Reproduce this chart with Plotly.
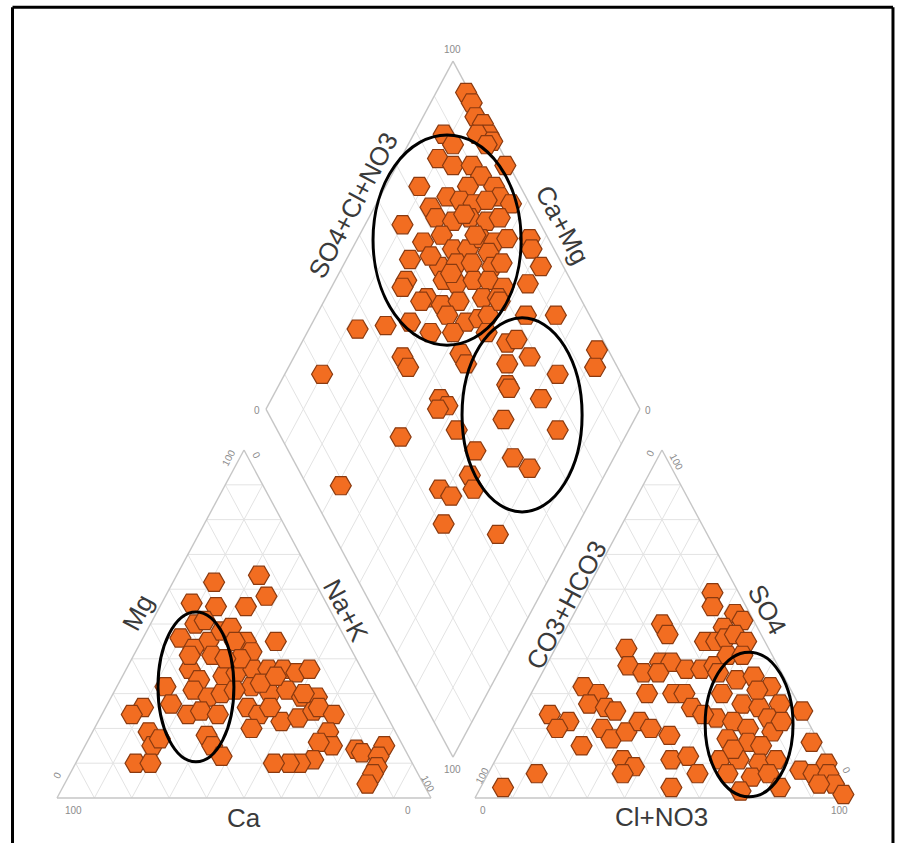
import math
import plotly.graph_objects as go

# ---------------------------------------------------------------------------
# Sample chemistry (percent of meq/L)
# ---------------------------------------------------------------------------
# Cation triangle: Ca and Mg (Na+K is the remainder)
cation_ca = [27, 14, 15, 36, 30, 22, 19, 44, 38, 37, 38, 32, 29, 27, 27, 46, 45, 38, 34,
             55, 48, 45, 41, 56, 53, 49, 45, 51, 51, 50, 29, 25, 21, 18, 14, 32, 28, 23,
             20, 16, 36, 34, 29, 24, 19, 17, 14, 38, 18, 19, 22, 26, 30, 33, 37, 13, 12,
             5, 8, 10, 12, 15, 64, 68, 66, 67, 74, 70, 64, 30, 31, 29, 24, 19, 30, 35, 42,
             35, 44, 37]
cation_mg = [62, 64, 58, 56, 55, 55, 45, 46, 50, 45, 41, 48, 49, 45, 42, 37, 34, 35, 36,
             32, 31, 29, 30, 27, 24, 25, 24, 18, 15, 12, 37, 37, 37, 36, 37, 32, 30, 31,
             29, 29, 26, 24, 22, 23, 25, 26, 24, 20, 19, 15, 16, 11, 10, 10, 10, 14, 13,
             15, 12, 9, 7, 4, 26, 24, 19, 15, 10, 10, 17, 45, 40, 33, 35, 30, 26, 40, 43,
             51, 41, 31]

# Anion triangle: Cl+NO3 and SO4 (CO3+HCO3 is the remainder)
anion_cl = [34, 36, 43, 46, 42, 39, 42, 44, 46, 50, 25, 28, 19, 30, 33, 22, 27, 31, 38,
            42, 45, 47, 13, 18, 17, 22, 25, 8, 14, 12, 21, 24, 28, 31, 33, 37, 31, 38,
            41, 45, 43, 34, 38, 36, 47, 51, 56, 51, 6, 13,
            47, 53, 57, 63, 68, 51, 58, 63, 53, 58, 63, 67, 70, 59, 65, 69, 60, 65, 71,
            75, 64, 71, 75, 70, 80,
            75, 82, 83, 87, 89, 91, 94, 98, 90,
            51, 60, 71, 62, 49]
anion_so4 = [59, 55, 53, 51, 49, 45, 45, 46, 47, 45, 50, 47, 43, 39, 39, 38, 36, 36, 37,
             37, 38, 41, 32, 30, 27, 26, 25, 24, 22, 20, 15, 20, 17, 19, 22, 20, 30, 30,
             30, 26, 18, 11, 9, 7, 11, 12, 7, 3, 3, 7,
             36, 34, 35, 32, 27, 30, 27, 26, 23, 22, 20, 23, 19, 17, 16, 15, 11, 11, 10,
             11, 7, 6, 7, 2, 3,
             25, 16, 8, 7, 10, 7, 4, 1, 4,
             41, 31, 22, 14, 24]

# Central diamond: SO4+Cl+NO3 and Ca+Mg
diamond_so4_cl = [99, 99, 98, 99, 99, 96, 99, 97, 87, 88, 82, 85, 90, 99, 91, 73, 86, 93,
                  93, 73, 79, 82, 85, 89, 95, 63, 73, 77, 82, 86, 90, 66, 72, 73, 77, 82,
                  85, 89, 95, 82, 60, 67, 72, 76, 81, 84, 94, 94, 56, 66, 69, 74, 78, 81,
                  88, 54, 59, 62, 67, 74, 78, 62, 66, 70, 73, 51, 55, 61, 83, 91, 36, 44,
                  60, 74, 77, 44, 44, 60, 71, 78, 83, 97, 94, 20, 68, 75, 48, 49, 32, 62,
                  75, 46, 48, 50, 59, 62, 45, 35, 37, 44, 31, 44, 9, 68,
                  81, 69, 81, 66, 78, 57, 70]
diamond_ca_mg = [92, 89, 86, 83, 80, 83, 78, 79, 92, 88, 90, 85, 80, 71, 76, 91, 78, 71,
                 68, 85, 82, 78, 74, 71, 64, 90, 82, 77, 73, 68, 65, 82, 78, 73, 69, 67,
                 63, 60, 54, 63, 83, 74, 70, 66, 60, 58, 52, 47, 81, 71, 67, 63, 59, 54,
                 48, 81, 73, 68, 64, 58, 54, 65, 59, 56, 54, 74, 67, 61, 44, 36, 87, 80,
                 56, 45, 43, 71, 68, 53, 42, 37, 27, 20, 18, 90, 39, 28, 55, 52, 60, 35,
                 19, 54, 46, 38, 27, 21, 36, 42, 38, 33, 36, 20, 69, 38,
                 75, 70, 69, 78, 53, 74, 52]

# Highlighted groups, as (x0, y0, x1, y1) in plot units
highlight_ellipses = [
    (0.845, 1.127, 1.241, 1.650),
    (1.083, 0.712, 1.404, 1.195),
    (0.270, 0.090, 0.473, 0.463),
    (1.733, 0.003, 1.968, 0.363),
]

# ---------------------------------------------------------------------------
# Piper geometry: unit-side triangles, gap g between them
# ---------------------------------------------------------------------------
H = math.sqrt(3) / 2
G = 0.1176
RX0 = 1 + G                      # left vertex of the anion triangle
BX, BY = 1 + G / 2, G * H        # bottom vertex of the diamond

GRID = "#e3e3e3"
EDGE = "#c6c6c6"
TICK = "#8c8c8c"
LABEL = "#3a3a3a"
FONT = "Liberation Sans, Arial, sans-serif"


def cation_xy(ca, mg):
    nak = 100 - ca - mg
    return (nak + mg / 2) / 100, mg / 100 * H


def anion_xy(cl, so4):
    return RX0 + (cl + so4 / 2) / 100, so4 / 100 * H


def diamond_xy(s, c):
    return BX + 0.5 * (s - c) / 100, BY + H * (s + c) / 100


def seg_trace(segs, color, width):
    xs, ys = [], []
    for (x0, y0), (x1, y1) in segs:
        xs += [x0, x1, None]
        ys += [y0, y1, None]
    return go.Scatter(x=xs, y=ys, mode="lines", line=dict(color=color, width=width),
                      hoverinfo="skip", showlegend=False)


grid_segs, edge_segs = [], []
steps = [k / 10 for k in range(1, 10)]

# triangle grids (left at x0 = 0, right at x0 = RX0)
for x0 in (0.0, RX0):
    A, B, C = (x0, 0.0), (x0 + 1, 0.0), (x0 + 0.5, H)
    edge_segs += [(A, B), (B, C), (C, A)]
    for k in steps:
        grid_segs.append(((x0 + k / 2, k * H), (x0 + 1 - k / 2, k * H)))
        grid_segs.append(((x0 + k, 0.0), (x0 + k + (1 - k) / 2, (1 - k) * H)))
        grid_segs.append(((x0 + 1 - k, 0.0), (x0 + (1 - k) / 2, (1 - k) * H)))

# diamond grid
DB = diamond_xy(0, 0)
DL = diamond_xy(0, 100)
DR = diamond_xy(100, 0)
DT = diamond_xy(100, 100)
edge_segs += [(DB, DR), (DR, DT), (DT, DL), (DL, DB)]
for k in steps:
    grid_segs.append((diamond_xy(k * 100, 0), diamond_xy(k * 100, 100)))
    grid_segs.append((diamond_xy(0, k * 100), diamond_xy(100, k * 100)))

fig = go.Figure()
fig.add_trace(seg_trace(grid_segs, GRID, 1))
fig.add_trace(seg_trace(edge_segs, EDGE, 1.4))

marker = dict(symbol="hexagon2", size=21, color="#f26d21",
              line=dict(color="#8a3a10", width=1.2))

cx, cy = zip(*[cation_xy(a, b) for a, b in zip(cation_ca, cation_mg)])
ax_, ay_ = zip(*[anion_xy(a, b) for a, b in zip(anion_cl, anion_so4)])
dx_, dy_ = zip(*[diamond_xy(a, b) for a, b in zip(diamond_so4_cl, diamond_ca_mg)])

for xs, ys in ((cx, cy), (ax_, ay_), (dx_, dy_)):
    fig.add_trace(go.Scatter(x=list(xs), y=list(ys), mode="markers", marker=marker,
                             hoverinfo="skip", showlegend=False))

shapes = []
for x0, y0, x1, y1 in highlight_ellipses:
    shapes.append(dict(type="circle", xref="x", yref="y", x0=x0, y0=y0, x1=x1, y1=y1,
                       line=dict(color="black", width=3)))

# outer frame (open at the bottom)
for x0, y0, x1, y1 in [(0.0139, 0, 0.0139, 0.9915), (0.0139, 0.9915, 0.9922, 0.9915),
                       (0.9922, 0.9915, 0.9922, 0)]:
    shapes.append(dict(type="line", xref="paper", yref="paper", x0=x0, y0=y0, x1=x1, y1=y1,
                       line=dict(color="black", width=3)))

annotations = []


def note(text, x, y, xs=0, ys=0, angle=0, size=10, color=TICK):
    annotations.append(dict(text=text, x=x, y=y, xref="x", yref="y", xshift=xs, yshift=ys,
                            textangle=angle, showarrow=False,
                            font=dict(family=FONT, size=size, color=color)))


ANG = 62
TS = 26
# axis titles
note("Mg", 0.25, H / 2, -13, 11, -ANG, TS, LABEL)
note("Na+K", 0.75, H / 2, 8, 14, ANG, TS, LABEL)
note("Ca", 0.5, 0, 0, -20, 0, TS, LABEL)
note("CO3+HCO3", RX0 + 0.25, H / 2, -2, 19, -ANG, TS, LABEL)
note("SO4", RX0 + 0.75, H / 2, 12, 14, ANG, TS, LABEL)
note("Cl+NO3", RX0 + 0.5, 0, 0, -19, 0, TS, LABEL)
mlx, mly = (DL[0] + DT[0]) / 2, (DL[1] + DT[1]) / 2
mrx, mry = (DR[0] + DT[0]) / 2, (DR[1] + DT[1]) / 2
note("SO4+Cl+NO3", mlx, mly, -6, 30, -ANG, TS, LABEL)
note("Ca+Mg", mrx, mry, 16, 10, ANG, TS, LABEL)

# tick labels at the vertices
note("100", 0, 0, 16, -12)
note("0", 1, 0, -23, -12)
note("0", 0, 0, 0, 23, -ANG)
note("100", 0.5, H, -16, -8, -ANG)
note("0", 0.5, H, 13, -5, ANG)
note("100", 1, 0, -3, 15, ANG)

note("0", RX0, 0, 8, -12)
note("100", RX0 + 1, 0, -9, -12)
note("100", RX0, 0, 7, 23, -ANG)
note("0", RX0 + 0.5, H, -12, -3, -ANG)
note("100", RX0 + 0.5, H, 15, -12, ANG)
note("0", RX0 + 1, 0, -2, 28, ANG)

note("100", DT[0], DT[1], 0, 12)
note("0", DL[0], DL[1], -9, -1)
note("0", DR[0], DR[1], 8, -1)
note("100", DB[0], DB[1], 0, -12)

fig.update_layout(
    width=900, height=843,
    margin=dict(l=0, r=0, t=0, b=0),
    paper_bgcolor="white", plot_bgcolor="white",
    xaxis=dict(range=[-0.1524, 2.2540], visible=False, fixedrange=True),
    yaxis=dict(range=[-0.1120, 1.9861], visible=False, fixedrange=True),
    shapes=shapes,
    annotations=annotations,
    showlegend=False,
)

fig.write_html("out.html")
